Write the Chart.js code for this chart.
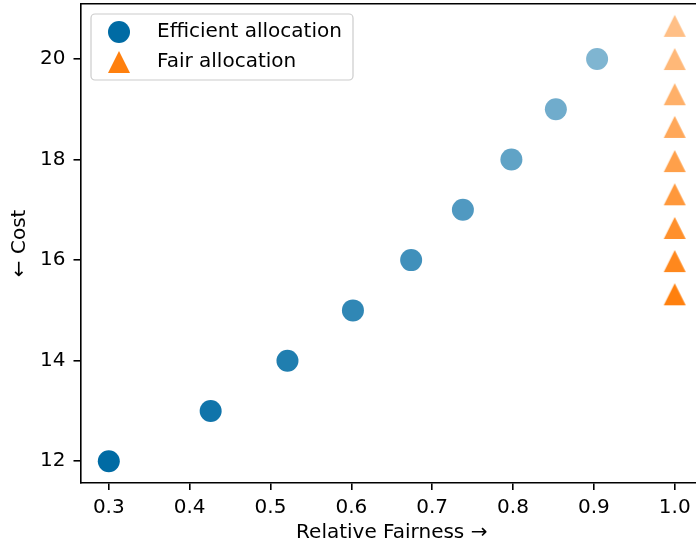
<!DOCTYPE html>
<html>
<head>
<meta charset="utf-8">
<script src="https://cdn.jsdelivr.net/npm/chart.js@4/dist/chart.umd.min.js"></script>
<style>
  html, body { margin: 0; padding: 0; background: #fff; overflow: hidden; }
  #wrap { width: 710px; height: 548px; }
</style>
</head>
<body>
<div id="wrap"><canvas id="chart" width="710" height="548"></canvas></div>
<script>
// data
const efficientFairness = [0.300, 0.426, 0.521, 0.602, 0.674, 0.738, 0.798, 0.853, 0.904];
const efficientCost = [12, 13, 14, 15, 16, 17, 18, 19, 20];
const fairFairness = [1, 1, 1, 1, 1, 1, 1, 1, 1];
const fairCost = [15.32, 15.98, 16.64, 17.31, 17.97, 18.65, 19.30, 20.00, 20.66];
const xTicks = [0.3, 0.4, 0.5, 0.6, 0.7, 0.8, 0.9, 1.0];
const yTicks = [12, 14, 16, 18, 20];

const BLUE = [0, 107, 164];
const ORANGE = [255, 128, 14];
const FONT = { family: 'DejaVu Sans', size: 20 };

// points fade from alpha 1 to 0.5 along each series
function fade(rgb, i, n) {
    const a = 1 - 0.5 * i / (n - 1);
    return `rgba(${rgb[0]},${rgb[1]},${rgb[2]},${a})`;
}

const triCache = {};
function triangle(color) {
    if (triCache[color]) return triCache[color];
    const c = document.createElement('canvas');
    c.width = 24; c.height = 24;
    const g = c.getContext('2d');
    g.fillStyle = color;
    g.beginPath();
    g.moveTo(12, 1);
    g.lineTo(23, 23);
    g.lineTo(1, 23);
    g.closePath();
    g.fill();
    triCache[color] = c;
    return c;
}

const toPoints = (xs, ys) => xs.map((x, i) => ({ x: x, y: ys[i] }));

// no extra room for overhanging tick labels, the axes box is fixed
function noOverhang(s) {
    s.paddingTop = 0; s.paddingBottom = 0;
    s.paddingLeft = 0; s.paddingRight = 0;
}

// top spine + legend box in the upper left
const framePlugin = {
    id: 'frame',
    afterDatasetsDraw(chart) {
        const { ctx, chartArea } = chart;
        ctx.save();
        ctx.strokeStyle = '#000';
        ctx.lineWidth = 1.6;
        ctx.beginPath();
        ctx.moveTo(chartArea.left, chartArea.top);
        ctx.lineTo(chartArea.right, chartArea.top);
        ctx.stroke();

        // legend
        const bx = 91, by = 14, bw = 262, bh = 66, r = 4;
        ctx.beginPath();
        ctx.roundRect(bx, by, bw, bh, r);
        ctx.fillStyle = 'rgba(255,255,255,0.8)';
        ctx.fill();
        ctx.strokeStyle = '#cccccc';
        ctx.lineWidth = 1.2;
        ctx.stroke();

        const rows = [32, 62];
        chart.data.datasets.forEach((ds, i) => {
            const y = rows[i];
            if (i === 0) {
                ctx.fillStyle = fade(BLUE, 0, 2);
                ctx.beginPath();
                ctx.arc(119, y, 11, 0, Math.PI * 2);
                ctx.fill();
            } else {
                ctx.drawImage(triangle(fade(ORANGE, 0, 2)), 119 - 12, y - 12);
            }
            ctx.fillStyle = '#000';
            ctx.font = '20px "DejaVu Sans"';
            ctx.textBaseline = 'middle';
            ctx.textAlign = 'left';
            ctx.fillText(ds.label, 157, y);
        });
        ctx.restore();
    }
};

new Chart(document.getElementById('chart'), {
    type: 'scatter',
    data: {
        datasets: [{
            label: 'Efficient allocation',
            data: toPoints(efficientFairness, efficientCost),
            pointStyle: 'circle',
            pointRadius: 11,
            pointBorderWidth: 0,
            clip: false,
            backgroundColor: ctx => fade(BLUE, ctx.dataIndex, efficientCost.length)
        }, {
            label: 'Fair allocation',
            data: toPoints(fairFairness, fairCost),
            pointStyle: ctx => triangle(fade(ORANGE, ctx.dataIndex, fairCost.length)),
            pointRadius: 12,
            pointBorderWidth: 0,
            clip: false,
            backgroundColor: ctx => fade(ORANGE, ctx.dataIndex, fairCost.length)
        }]
    },
    options: {
        responsive: false,
        animation: false,
        events: [],
        layout: { autoPadding: false, padding: { top: 3.7, right: 7, left: 0, bottom: 0 } },
        plugins: {
            legend: { display: false },
            tooltip: { enabled: false }
        },
        scales: {
            x: {
                type: 'linear',
                min: 0.265,
                max: 1.035,
                afterBuildTicks: s => { s.ticks = xTicks.map(v => ({ value: v })); },
                afterFit: s => { s.height = 65; noOverhang(s); },
                grid: { drawOnChartArea: false, drawTicks: true, tickLength: 7, color: '#000', lineWidth: 1.6 },
                border: { display: true, color: '#000', width: 1.6 },
                ticks: {
                    color: '#000', font: FONT, padding: 6, maxRotation: 0,
                    callback: v => v.toFixed(1)
                },
                title: {
                    display: true, text: 'Relative Fairness →', color: '#000', font: FONT,
                    padding: { top: 0, bottom: 3 }
                }
            },
            y: {
                type: 'linear',
                min: 11.567,
                max: 21.1,
                afterBuildTicks: s => { s.ticks = yTicks.map(v => ({ value: v })); },
                afterFit: s => { s.width = 80.5; noOverhang(s); },
                grid: { drawOnChartArea: false, drawTicks: true, tickLength: 7, color: '#000', lineWidth: 1.6 },
                border: { display: true, color: '#000', width: 1.6 },
                ticks: {
                    color: '#000', font: FONT, padding: 8,
                    callback: v => String(v)
                },
                title: {
                    display: true, text: '← Cost', color: '#000', font: FONT,
                    padding: { top: 8, bottom: 0 }
                }
            }
        }
    },
    plugins: [framePlugin]
});
</script>
</body>
</html>
